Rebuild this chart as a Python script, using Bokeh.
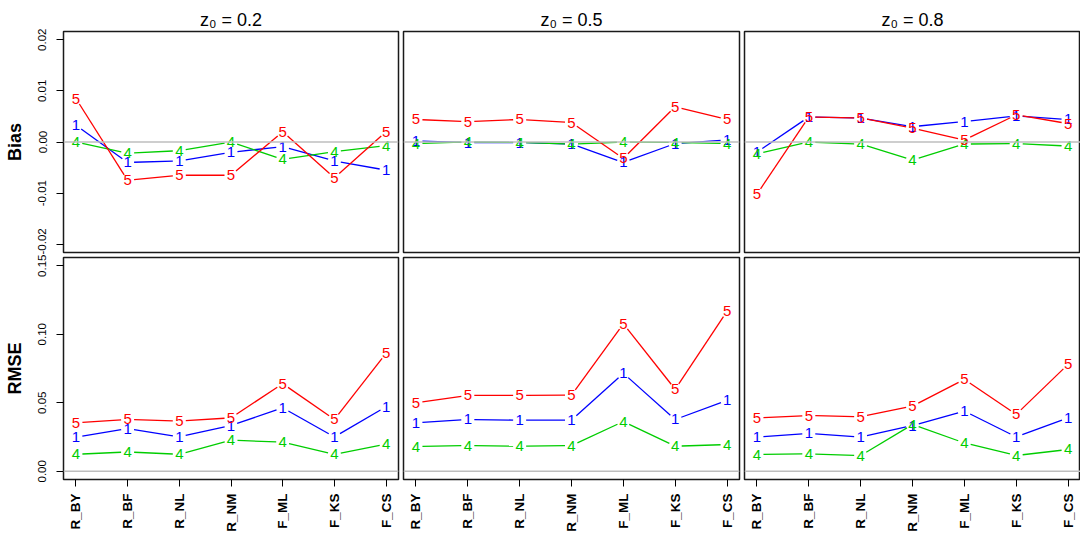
import math
from bokeh.plotting import figure
from bokeh.layouts import column, row
from bokeh.models import Range1d, Span, FixedTicker, PrintfTickFormatter, ColumnDataSource
from bokeh.core.properties import value
from bokeh.embed import file_html
from bokeh.resources import INLINE

# ---------------- data ----------------
categories = ["R_BY", "R_BF", "R_NL", "R_NM", "F_ML", "F_KS", "F_CS"]
z0_values = ["0.2", "0.5", "0.8"]
series_labels = ["1", "4", "5"]
series_colors = ["#0000FF", "#00CD00", "#FF0000"]

bias_ticks = [-0.02, -0.01, 0.0, 0.01, 0.02]
rmse_ticks = [0.0, 0.05, 0.10, 0.15]

# Bias, z0 = 0.2
bias_z02_s1 = [0.0033, -0.0040, -0.0037, -0.0020, -0.0009, -0.0037, -0.0055]
bias_z02_s4 = [0.0000, -0.0022, -0.0017, 0.0000, -0.0034, -0.0019, -0.0007]
bias_z02_s5 = [0.0085, -0.0075, -0.0065, -0.0065, 0.0020, -0.0070, 0.0020]
# Bias, z0 = 0.5
bias_z05_s1 = [0.0002, -0.0001, -0.0001, -0.0004, -0.0040, -0.0003, 0.0004]
bias_z05_s4 = [-0.0003, 0.0000, -0.0001, -0.0004, 0.0000, -0.0001, -0.0003]
bias_z05_s5 = [0.0044, 0.0040, 0.0044, 0.0038, -0.0032, 0.0069, 0.0044]
# Bias, z0 = 0.8
bias_z08_s1 = [-0.0020, 0.0049, 0.0047, 0.0030, 0.0040, 0.0051, 0.0044]
bias_z08_s4 = [-0.0023, 0.0000, -0.0004, -0.0035, -0.0004, -0.0003, -0.0008]
bias_z08_s5 = [-0.0102, 0.0049, 0.0047, 0.0027, 0.0004, 0.0053, 0.0036]

# RMSE, z0 = 0.2
rmse_z02_s1 = [0.0249, 0.0312, 0.0251, 0.0334, 0.0463, 0.0251, 0.0471]
rmse_z02_s4 = [0.0124, 0.0141, 0.0124, 0.0227, 0.0212, 0.0124, 0.0198]
rmse_z02_s5 = [0.0354, 0.0378, 0.0366, 0.0390, 0.0639, 0.0378, 0.0861]
# RMSE, z0 = 0.5
rmse_z05_s1 = [0.0354, 0.0378, 0.0373, 0.0373, 0.0715, 0.0378, 0.0517]
rmse_z05_s4 = [0.0180, 0.0188, 0.0183, 0.0188, 0.0363, 0.0183, 0.0195]
rmse_z05_s5 = [0.0500, 0.0554, 0.0554, 0.0556, 0.1076, 0.0598, 0.1168]
# RMSE, z0 = 0.8
rmse_z08_s1 = [0.0249, 0.0276, 0.0249, 0.0334, 0.0439, 0.0251, 0.0390]
rmse_z08_s4 = [0.0122, 0.0127, 0.0115, 0.0341, 0.0207, 0.0115, 0.0159]
rmse_z08_s5 = [0.0390, 0.0407, 0.0398, 0.0476, 0.0671, 0.0415, 0.0780]

bias_panels = [
    [bias_z02_s1, bias_z02_s4, bias_z02_s5],
    [bias_z05_s1, bias_z05_s4, bias_z05_s5],
    [bias_z08_s1, bias_z08_s4, bias_z08_s5],
]
rmse_panels = [
    [rmse_z02_s1, rmse_z02_s4, rmse_z02_s5],
    [rmse_z05_s1, rmse_z05_s4, rmse_z05_s5],
    [rmse_z08_s1, rmse_z08_s4, rmse_z08_s5],
]

# ---------------- layout / style ----------------
FONT = "Liberation Sans"
x_pos = list(range(1, len(categories) + 1))
x_ext = 0.04 * (x_pos[-1] - x_pos[0])
x_lo, x_hi = x_pos[0] - x_ext, x_pos[-1] + x_ext

def ext(lo, hi):
    d = 0.04 * (hi - lo)
    return lo - d, hi + d

bias_lo, bias_hi = ext(bias_ticks[0], bias_ticks[-1])
rmse_lo, rmse_hi = ext(rmse_ticks[0], rmse_ticks[-1])

frame_w = [335, 336, 336]
left_b = [63, 3, 2]
right_b = [2, 3, 0]
frame_h = [221, 222]
top_b = [31, 3]
bottom_b = [2, 56]
GAP = 6.5  # px gap between point labels and line ends (type="b")


def gapped(xs, ys, sx, sy, gap):
    a, b, c, d = [], [], [], []
    for i in range(len(xs) - 1):
        ddx = xs[i + 1] - xs[i]
        ddy = ys[i + 1] - ys[i]
        L = math.hypot(ddx * sx, ddy * sy)
        if L <= 2 * gap:
            continue
        f = gap / L
        a.append(xs[i] + ddx * f)
        b.append(ys[i] + ddy * f)
        c.append(xs[i + 1] - ddx * f)
        d.append(ys[i + 1] - ddy * f)
    return a, b, c, d


def make_panel(ci, ri, panel_series, ylo, yhi, ticks, ylabel):
    p = figure(
        frame_width=frame_w[ci], frame_height=frame_h[ri],
        x_range=Range1d(x_lo, x_hi), y_range=Range1d(ylo, yhi),
        output_backend="svg", toolbar_location=None,
        min_border_left=left_b[ci], min_border_right=right_b[ci],
        min_border_top=top_b[ri], min_border_bottom=bottom_b[ri],
        x_axis_location=("below" if ri == 1 else None),
        y_axis_location=("left" if ci == 0 else None),
        background_fill_color="white", border_fill_color="white",
    )
    p.xgrid.visible = False
    p.ygrid.visible = False
    p.outline_line_color = "#1a1a1a"
    p.outline_line_width = 1.5
    p.outline_line_alpha = 1.0

    if ri == 0:
        p.title.text = "z\u2080 = " + z0_values[ci]
        p.title.align = "center"
        p.title.text_font = FONT
        p.title.text_font_size = "18px"
        p.title.text_font_style = "normal"
        p.title.text_color = "#000000"
        p.title.standoff = 4
        p.title.offset = 0

    if ci == 0:
        ax = p.yaxis[0]
        ax.ticker = FixedTicker(ticks=ticks)
        ax.formatter = PrintfTickFormatter(format="%.2f")
        ax.major_label_orientation = "vertical"
        ax.major_label_text_font = FONT
        ax.major_label_text_font_size = "11.5px"
        ax.major_label_text_color = "#000000"
        ax.major_label_standoff = 10
        ax.major_tick_out = 7
        ax.major_tick_in = 0
        ax.major_tick_line_color = "#000000"
        ax.minor_tick_line_color = None
        ax.axis_line_color = None
        ax.axis_label = ylabel
        ax.axis_label_text_font = FONT
        ax.axis_label_text_font_size = "18px"
        ax.axis_label_text_font_style = "bold"
        ax.axis_label_text_color = "#000000"
        ax.axis_label_standoff = 11

    if ri == 1:
        ax = p.xaxis[0]
        ax.ticker = FixedTicker(ticks=x_pos)
        ax.major_label_overrides = {x: c for x, c in zip(x_pos, categories)}
        ax.major_label_orientation = math.pi / 2
        ax.major_label_text_font = FONT
        ax.major_label_text_font_size = "13.5px"
        ax.major_label_text_font_style = "bold"
        ax.major_label_text_color = "#000000"
        ax.major_label_standoff = 7
        ax.major_tick_out = 7
        ax.major_tick_in = 0
        ax.major_tick_line_color = "#000000"
        ax.minor_tick_line_color = None
        ax.axis_line_color = None

    p.add_layout(Span(location=0, dimension="width", line_color="#BEBEBE", line_width=1.5))

    sx = frame_w[ci] / (x_hi - x_lo)
    sy = frame_h[ri] / (yhi - ylo)
    for ys, lab, col in zip(panel_series, series_labels, series_colors):
        a, b, c, d = gapped(x_pos, ys, sx, sy, GAP)
        p.segment(x0=a, y0=b, x1=c, y1=d, line_color=col, line_width=1.3)
        src = ColumnDataSource(dict(x=x_pos, y=ys, t=[lab] * len(ys)))
        p.text(x="x", y="y", text="t", source=src, text_color=col,
               text_font=value(FONT), text_font_size="15px",
               text_align="center", text_baseline="middle")
    return p


top = [make_panel(i, 0, bias_panels[i], bias_lo, bias_hi, bias_ticks, "Bias") for i in range(3)]
bot = [make_panel(i, 1, rmse_panels[i], rmse_lo, rmse_hi, rmse_ticks, "RMSE") for i in range(3)]

layout = column(row(*top, spacing=0), row(*bot, spacing=0), spacing=0)

open("out.html", "w").write(file_html(layout, INLINE))
